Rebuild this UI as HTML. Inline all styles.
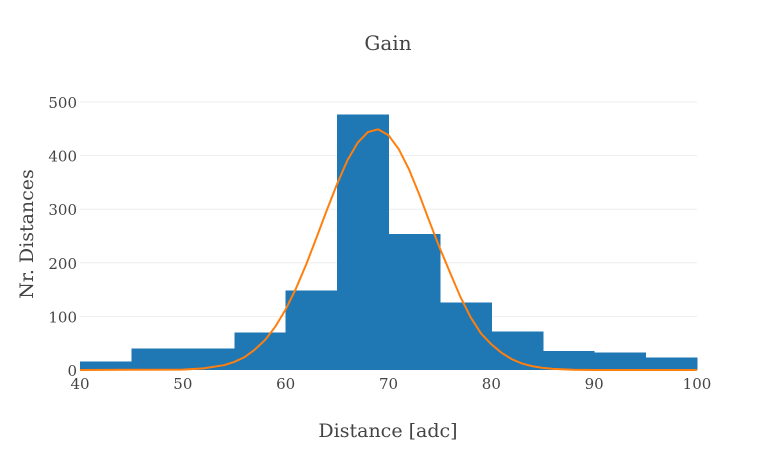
<!DOCTYPE html>
<html><head><meta charset="utf-8"><style>
body{margin:0;background:#fff}
svg text{font-family:"DejaVu Serif","Liberation Serif",serif;fill:#444}
</style></head><body>
<svg id="chart" width="777" height="450">
<text x="388" y="50" text-anchor="middle" font-size="20">Gain</text>
<g id="grid"></g><g id="bars"></g><g id="curve"></g><g id="axes"></g>
<text x="388" y="437" text-anchor="middle" font-size="19">Distance [adc]</text>
<text transform="translate(33,234) rotate(-90)" text-anchor="middle" font-size="19">Nr. Distances</text>
</svg>
<script>
const binStarts=[40,45,50,55,60,65,70,75,80,85,90,95];
const binCounts=[16,40,40,70,148,477,254,126,72,35,33,23];
const binWidth=5;
const fitX=[40,50,52,54,55,56,57,58,59,60,61,62,63,64,65,66,67,68,69,70,71,72,73,74,75,76,77,78,79,80,81,82,83,84,85,86,88,90,100];
const fitY=[0,0.8,3,9,15,24,38,56,81,113,152,197,247,298,347,391,424,444,449,438,412,374,327,276,227,181,136,98,68,48,32,20,12,7,4,2,0.5,0.1,0];
const xTicks=[40,50,60,70,80,90,100];
const yTicks=[0,100,200,300,400,500];
const NS="http://www.w3.org/2000/svg";
const X=v=>80+(v-40)*(617/60);
const Y=v=>370-v*(268/500);
function mk(t,a,p){const e=document.createElementNS(NS,t);for(const k in a)e.setAttribute(k,a[k]);p.appendChild(e);return e;}
const grid=document.getElementById('grid'),bars=document.getElementById('bars'),curve=document.getElementById('curve'),axes=document.getElementById('axes');
yTicks.forEach(t=>{
 if(t>0){const l=mk('line',{x1:80,x2:697,y1:Y(t),y2:Y(t),stroke:'#eee','stroke-width':1},grid);
 
 }
 const tx=mk('text',{x:77,y:Y(t)+6,'text-anchor':'end','font-size':15},axes);tx.textContent=t;
 
 
});
xTicks.forEach(t=>{
 const tx=mk('text',{x:X(t),y:389,'text-anchor':'middle','font-size':15},axes);tx.textContent=t;
 
 
});
binStarts.forEach((s,i)=>{
 const r=mk('rect',{x:X(s),y:Y(binCounts[i]),width:X(s+binWidth)-X(s)+0.5,height:Y(0)-Y(binCounts[i]),fill:'#1f77b4','shape-rendering':'crispEdges'},bars);
 
 
});
const p=mk('polyline',{points:fitX.map((x,i)=>X(x)+','+Y(fitY[i])).join(' '),fill:'none',stroke:'#ff7f0e','stroke-width':2},curve);


</script>
</body></html>
